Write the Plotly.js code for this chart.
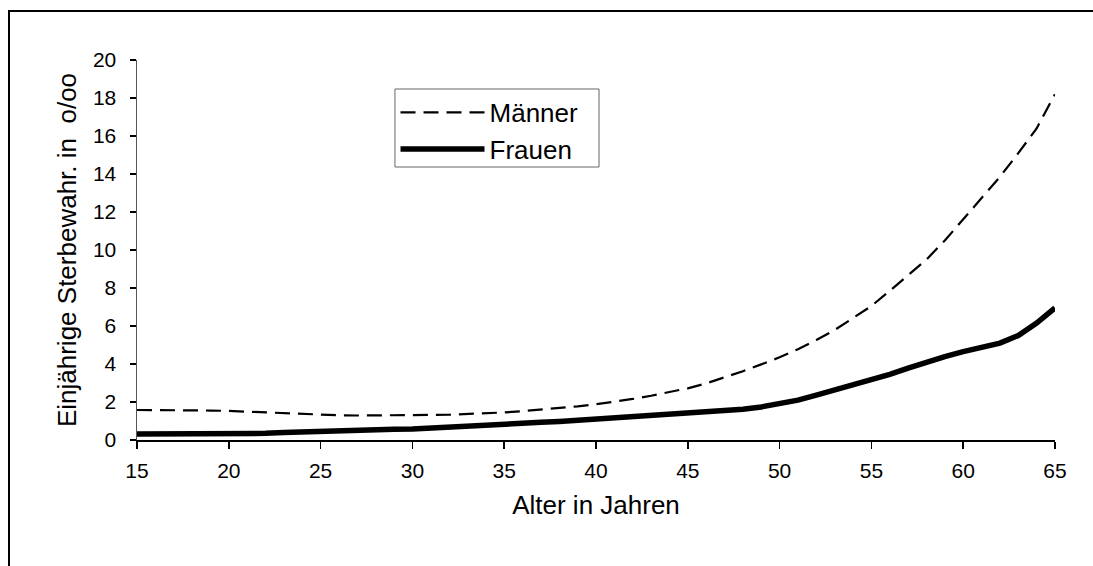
<!DOCTYPE html>
<html>
<head>
<meta charset="utf-8">
<script src="https://cdn.plot.ly/plotly-3.0.1.min.js"></script>
<style>
html,body{margin:0;padding:0;background:#fff;overflow:hidden;}
#wrap{position:relative;width:1093px;height:566px;overflow:hidden;}
#chart{width:1093px;height:566px;}
#frame{position:absolute;left:8px;top:10px;width:2000px;height:2000px;
  border-left:2.5px solid #000;border-top:2.5px solid #000;pointer-events:none;}
</style>
</head>
<body>
<div id="wrap">
<div id="chart"></div>
<div id="frame"></div>
</div>
<script>
// Alter (Jahre)
const alter = [15,16,17,18,19,20,21,22,23,24,25,26,27,28,29,30,31,32,33,34,35,36,37,38,39,40,
  41,42,43,44,45,46,47,48,49,50,51,52,53,54,55,56,57,58,59,60,61,62,63,64,65];
// Einjährige Sterbewahrscheinlichkeit in o/oo
const maenner = [1.58,1.58,1.58,1.57,1.55,1.53,1.49,1.44,1.39,1.35,1.32,1.30,1.29,1.29,1.30,1.31,
  1.32,1.33,1.36,1.40,1.45,1.52,1.60,1.68,1.77,1.88,2.01,2.16,2.33,2.52,2.72,2.98,3.28,3.62,3.98,
  4.35,4.78,5.26,5.79,6.40,7.05,7.85,8.68,9.50,10.5,11.6,12.7,13.85,15.1,16.4,18.2];
const frauen = [0.31,0.31,0.31,0.31,0.30,0.30,0.32,0.35,0.39,0.43,0.47,0.50,0.53,0.55,0.56,0.58,
  0.62,0.67,0.72,0.77,0.82,0.87,0.93,0.98,1.04,1.10,1.16,1.22,1.28,1.34,1.40,1.46,1.53,1.62,1.74,
  1.89,2.10,2.36,2.63,2.90,3.15,3.45,3.78,4.10,4.39,4.65,4.90,5.10,5.50,6.15,6.95];
const xTicks = [15,20,25,30,35,40,45,50,55,60,65];
const yTicks = [0,2,4,6,8,10,12,14,16,18,20];
const seriesNames = ['Männer','Frauen'];
const xTitle = 'Alter in Jahren';
const yTitle = 'Einjährige Sterbewahr. in  o/oo';

const FONT = 'Arial, "Liberation Sans", sans-serif';

const traces = [
  {x: alter, y: maenner, name: seriesNames[0], type: 'scatter', mode: 'lines',
   line: {color: '#000', width: 2.2, dash: '15px,8px'}},
  {x: alter, y: frauen, name: seriesNames[1], type: 'scatter', mode: 'lines',
   line: {color: '#000', width: 5.5}}
];

const layout = {
  width: 1093, height: 566,
  margin: {l: 137, r: 38, t: 60, b: 126},
  paper_bgcolor: '#fff', plot_bgcolor: '#fff',
  font: {family: FONT, color: '#000', size: 21},
  showlegend: true,
  legend: {
    x: 0.2816, y: 0.924, xanchor: 'left', yanchor: 'top',
    bgcolor: 'rgba(0,0,0,0)', borderwidth: 0,
    font: {family: FONT, size: 26, color: '#000'},
    itemwidth: 84, tracegroupgap: 0
  },
  xaxis: {
    range: [15, 65], tickmode: 'array', tickvals: xTicks, ticktext: xTicks.map(String),
    showgrid: false, zeroline: false, showline: true, linecolor: '#000', linewidth: 1.5,
    ticks: 'outside', ticklen: 7, tickcolor: '#000', tickwidth: 1.5,
    tickfont: {family: FONT, size: 21}, fixedrange: true, ticklabelstandoff: 4,
    title: {text: xTitle, font: {family: FONT, size: 26}, standoff: 15}
  },
  xaxis2: {
    range: [15, 65], overlaying: 'x', tickmode: 'array', tickvals: xTicks,
    showticklabels: false, showgrid: false, zeroline: false, showline: false,
    ticks: 'inside', ticklen: 5, tickcolor: '#000', tickwidth: 1.5, side: 'bottom'
  },
  yaxis: {
    range: [0, 20], tickmode: 'array', tickvals: yTicks, ticktext: yTicks.map(String),
    showgrid: false, zeroline: false, showline: true, linecolor: '#555', linewidth: 1.5,
    ticks: 'outside', ticklen: 6, tickcolor: '#000', tickwidth: 1.5,
    tickfont: {family: FONT, size: 21}, fixedrange: true, ticklabelstandoff: 9,
    title: {text: yTitle, font: {family: FONT, size: 26}, standoff: 9}
  },
  yaxis2: {
    range: [0, 20], overlaying: 'y', tickmode: 'array', tickvals: yTicks,
    showticklabels: false, showgrid: false, zeroline: false, showline: false,
    ticks: 'inside', ticklen: 6, tickcolor: '#000', tickwidth: 1.5, side: 'left'
  },
  shapes: [
    // legend box
    {type: 'rect', xref: 'paper', yref: 'paper', x0: 0.2810, x1: 0.5033, y0: 0.7184, y1: 0.9237,
     line: {color: '#666', width: 1}, fillcolor: '#fff', layer: 'below'}
  ]
};

Plotly.newPlot('chart', traces, layout, {displayModeBar: false, staticPlot: true});
</script>
</body>
</html>
